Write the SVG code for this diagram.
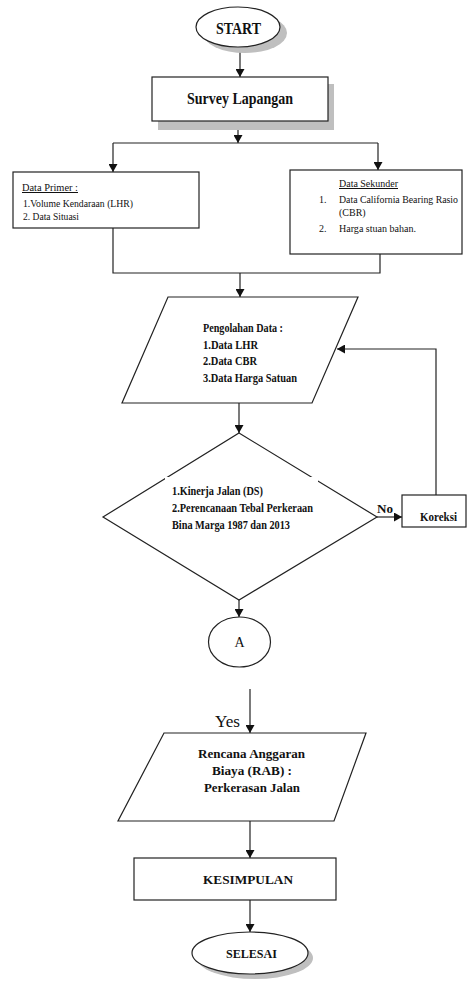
<svg xmlns="http://www.w3.org/2000/svg" width="468" height="987" viewBox="0 0 468 987">
<style>
  .sh { fill: #bfbfbf; stroke: none; }
  .box { fill: #fff; stroke: #222; stroke-width: 1.2; }
  .con { fill: none; stroke: #222; stroke-width: 1.2; }
  .t { font-family: "Liberation Serif", "Times New Roman", serif; fill: #111; }
  .b { font-weight: bold; }
  .c { text-anchor: middle; }
</style>
<defs>
  <marker id="ah" markerUnits="userSpaceOnUse" markerWidth="8" markerHeight="9" refX="8" refY="4.5" orient="auto">
    <path d="M0,0 L8,4.5 L0,9 z" fill="#111"/>
  </marker>
</defs>

<g id="connectors">
  <line class="con" x1="240" y1="47" x2="240" y2="77" marker-end="url(#ah)"/>
  <line class="con" x1="238" y1="121" x2="238" y2="143" marker-end="url(#ah)"/>
  <line class="con" x1="113" y1="143" x2="378" y2="143"/>
  <line class="con" x1="113" y1="143" x2="113" y2="172" marker-end="url(#ah)"/>
  <line class="con" x1="378" y1="143" x2="378" y2="170" marker-end="url(#ah)"/>
  <polyline class="con" points="113,228 113,273 380,273 380,254"/>
  <line class="con" x1="240" y1="273" x2="240" y2="297" marker-end="url(#ah)"/>
  <line class="con" x1="239" y1="403" x2="239" y2="433" marker-end="url(#ah)"/>
  <line class="con" x1="377" y1="517" x2="402" y2="517" marker-end="url(#ah)"/>
  <polyline class="con" points="436,495 436,349 337,349" marker-end="url(#ah)"/>
  <line class="con" x1="239" y1="600" x2="239" y2="617" marker-end="url(#ah)"/>
  <line class="con" x1="250" y1="689" x2="250" y2="733" marker-end="url(#ah)"/>
  <line class="con" x1="250" y1="821" x2="250" y2="858" marker-end="url(#ah)"/>
  <line class="con" x1="250" y1="900" x2="250" y2="932" marker-end="url(#ah)"/>
  <text class="t b" x="377" y="513" font-size="13" textLength="16" lengthAdjust="spacingAndGlyphs">No</text>
  <text class="t" x="215" y="727" font-size="16" textLength="25" lengthAdjust="spacingAndGlyphs">Yes</text>
</g>

<g id="start">
  <ellipse class="sh" cx="245" cy="33" rx="42" ry="20"/>
  <ellipse class="box" cx="238" cy="27" rx="42" ry="20"/>
  <text class="t b" x="216" y="34" font-size="16" textLength="45" lengthAdjust="spacingAndGlyphs">START</text>
</g>

<g id="survey">
  <rect class="sh" x="158" y="84" width="176" height="46"/>
  <rect class="box" x="152" y="77" width="176" height="44"/>
  <text class="t b" x="187" y="104" font-size="16" textLength="106" lengthAdjust="spacingAndGlyphs">Survey Lapangan</text>
</g>

<g id="data-primer">
  <rect class="box" x="13" y="172" width="186" height="56"/>
  <text class="t" x="22" y="191" font-size="10" text-decoration="underline" textLength="56" lengthAdjust="spacingAndGlyphs">Data Primer  :</text>
  <text class="t" x="23" y="207" font-size="10" textLength="110" lengthAdjust="spacingAndGlyphs">1.Volume Kendaraan (LHR)</text>
  <text class="t" x="23" y="220" font-size="10" textLength="56" lengthAdjust="spacingAndGlyphs">2. Data Situasi</text>
</g>

<g id="data-sekunder">
  <rect class="box" x="290" y="170" width="172" height="84"/>
  <text class="t" x="339" y="187" font-size="10" text-decoration="underline" textLength="59" lengthAdjust="spacingAndGlyphs">Data Sekunder</text>
  <text class="t" x="319" y="203" font-size="10">1.</text>
  <text class="t" x="339" y="203" font-size="10" textLength="119" lengthAdjust="spacingAndGlyphs">Data California Bearing Rasio</text>
  <text class="t" x="339" y="216" font-size="10">(CBR)</text>
  <text class="t" x="319" y="232" font-size="10">2.</text>
  <text class="t" x="339" y="232" font-size="10" textLength="77" lengthAdjust="spacingAndGlyphs">Harga stuan bahan.</text>
</g>

<g id="pengolahan">
  <polygon class="box" points="168,297 358,297 312,403 122,403"/>
  <text class="t b" x="203" y="332" font-size="12" textLength="80" lengthAdjust="spacingAndGlyphs">Pengolahan Data :</text>
  <text class="t b" x="203" y="349" font-size="12" textLength="55" lengthAdjust="spacingAndGlyphs">1.Data LHR</text>
  <text class="t b" x="203" y="365" font-size="12" textLength="54" lengthAdjust="spacingAndGlyphs">2.Data CBR</text>
  <text class="t b" x="203" y="382" font-size="12" textLength="94" lengthAdjust="spacingAndGlyphs">3.Data Harga Satuan</text>
</g>

<g id="decision">
  <polygon class="box" points="239,433 377,517 239,600 103,517"/>
  <rect x="165" y="477" width="153" height="62" fill="#fff"/>
  <text class="t b" x="172" y="495" font-size="11.5" textLength="91" lengthAdjust="spacingAndGlyphs">1.Kinerja Jalan (DS)</text>
  <text class="t b" x="172" y="512" font-size="11.5" textLength="141" lengthAdjust="spacingAndGlyphs">2.Perencanaan Tebal Perkeraan</text>
  <text class="t b" x="172" y="529" font-size="11.5" textLength="118" lengthAdjust="spacingAndGlyphs">Bina Marga 1987 dan 2013</text>
</g>

<g id="koreksi">
  <rect class="box" x="402" y="495" width="64" height="32"/>
  <text class="t b" x="420" y="521" font-size="12.5" textLength="37" lengthAdjust="spacingAndGlyphs">Koreksi</text>
</g>

<g id="a">
  <ellipse class="box" cx="239.5" cy="642" rx="31" ry="25"/>
  <text class="t c" x="239.5" y="647" font-size="14">A</text>
</g>

<g id="rab">
  <polygon class="box" points="164,733 366,733 334,821 118,821"/>
  <text class="t b" x="198" y="758" font-size="12" textLength="107" lengthAdjust="spacingAndGlyphs">Rencana Anggaran</text>
  <text class="t b" x="212" y="775" font-size="12" textLength="80" lengthAdjust="spacingAndGlyphs">Biaya (RAB) :</text>
  <text class="t b" x="204" y="792" font-size="12" textLength="96" lengthAdjust="spacingAndGlyphs">Perkerasan Jalan</text>
</g>

<g id="kesimpulan">
  <rect class="box" x="134" y="858" width="202" height="42"/>
  <text class="t b" x="203" y="884" font-size="13" textLength="90" lengthAdjust="spacingAndGlyphs">KESIMPULAN</text>
</g>

<g id="selesai">
  <ellipse class="sh" cx="255" cy="958" rx="58" ry="21"/>
  <ellipse class="box" cx="250" cy="953" rx="58" ry="21"/>
  <text class="t b" x="226" y="958" font-size="12" textLength="51" lengthAdjust="spacingAndGlyphs">SELESAI</text>
</g>
</svg>
